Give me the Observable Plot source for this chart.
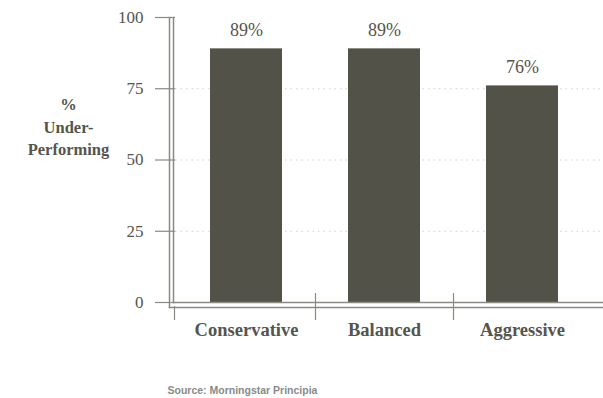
<!DOCTYPE html>
<html><head><meta charset="utf-8">
<script src="https://cdn.jsdelivr.net/npm/d3@7"></script>
<script src="https://cdn.jsdelivr.net/npm/@observablehq/plot@0.6"></script>
<style>body{margin:0;background:#fff}</style>
</head><body><div id="chart"></div>
<script>
const categories = ["Conservative", "Balanced", "Aggressive"];
const values = [89, 89, 76];
const yTicks = [0, 25, 50, 75, 100];
const gridTicks = [25, 50, 75];
const yTitle = "%\nUnder-\nPerforming";
const source = "Source: Morningstar Principia";

const data = categories.map((c, i) => ({category: c, value: values[i]}));
const serif = "Liberation Serif";
const axisColor = "#8a8a84";
const textColor = "#55554d";

const chart = Plot.plot({
  width: 603,
  height: 398,
  marginLeft: 169,
  marginRight: 0,
  marginTop: 17,
  marginBottom: 96,
  style: {fontFamily: serif, color: textColor, background: "#fff"},
  x: {domain: categories, range: [177, 591], padding: 0, label: null},
  y: {domain: [0, 100], label: null},
  marks: [
    Plot.ruleY(gridTicks, {stroke: "#d0d0cc", strokeDasharray: "1.5,4", dx: 6}),
    Plot.barY(data, {x: "category", y: "value", fill: "#535248", insetLeft: 33, insetRight: 33}),
    Plot.text(data, {x: "category", y: "value", text: d => d.value + "%", lineAnchor: "bottom", dy: -13, fontFamily: serif, fontSize: 18, fill: textColor}),
    // double frame lines
    Plot.frame({anchor: "left", stroke: axisColor, strokeWidth: 1.5, insetBottom: -5}),
    Plot.frame({anchor: "left", stroke: axisColor, strokeWidth: 1.5, insetLeft: 4}),
    Plot.frame({anchor: "bottom", stroke: axisColor, strokeWidth: 1.5, insetLeft: 4}),
    Plot.frame({anchor: "bottom", stroke: axisColor, strokeWidth: 1.5, insetBottom: -5}),
    // x separators
    Plot.ruleX([categories[0]], {x: d => d, dx: -72, stroke: axisColor, strokeWidth: 1.2, insetTop: 289, insetBottom: -18}),
    Plot.ruleX(categories.slice(1), {x: d => d, dx: -69, stroke: axisColor, strokeWidth: 1.2, insetTop: 276, insetBottom: -18}),
    Plot.axisY(yTicks, {anchor: "left", tickSize: 20, dx: 6, tickPadding: 12, fontFamily: serif, fontSize: 17, stroke: axisColor, color: textColor, strokeWidth: 1.2}),
    Plot.axisX({anchor: "bottom", tickSize: 0, tickPadding: 20, fontFamily: serif, fontSize: 18.5, fontWeight: "bold", color: textColor}),
    Plot.text([yTitle], {frameAnchor: "top-left", dx: -101, dy: 108, lineAnchor: "middle", lineHeight: 1.36, textAnchor: "middle", fontFamily: serif, fontSize: 16.5, fontWeight: "bold", fill: textColor}),
    Plot.text([source], {frameAnchor: "bottom-left", dx: -2, dy: 91, textAnchor: "start", fontFamily: "Liberation Sans", fontSize: 10.5, fontWeight: "bold", fill: "#8a8a8a"})
  ]
});
document.getElementById("chart").append(chart);
</script>
</body></html>
